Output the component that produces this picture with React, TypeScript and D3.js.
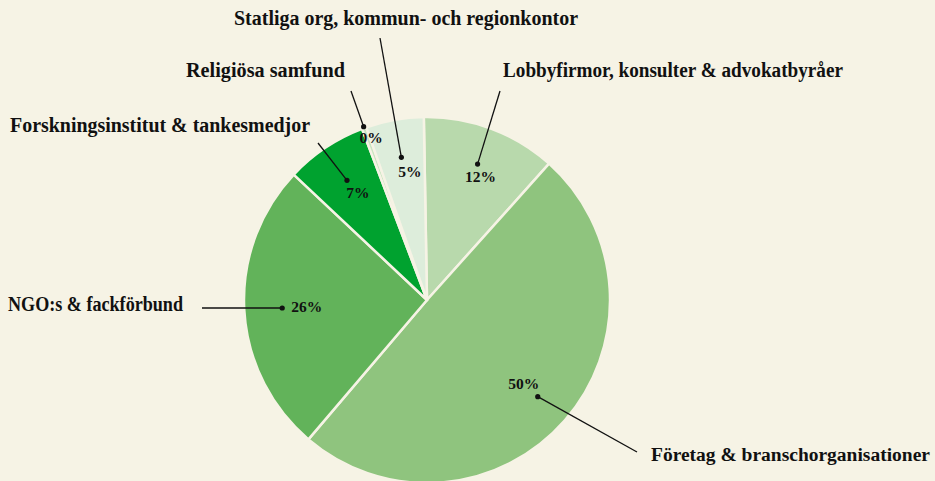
import React from "react";
import * as d3 from "d3";

const categories = [
  "Lobbyfirmor, konsulter & advokatbyråer",
  "Företag & branschorganisationer",
  "NGO:s & fackförbund",
  "Forskningsinstitut & tankesmedjor",
  "Religiösa samfund",
  "Statliga org, kommun- och regionkontor",
];
const shares = [11.9, 49.6, 25.8, 7.2, 0.4, 5.1];
const sliceColors = ["#b8d9ac", "#8fc47e", "#62b35a", "#00a22f", "#c9e5c1", "#ddeddb"];

// label layout (positions only)
const labelLayout = [
  { x: 503, y: 77, fs: 20, w: 340, lx: 500, ly: 91, dotR: 145, px: 3, py: 18, panchor: "middle" },
  { x: 651, y: 461, fs: 18.5, w: 279, lx: 637, ly: 452, dotR: 147, px: -14, py: -8, panchor: "middle" },
  { x: 8, y: 311, fs: 20, w: 175, lx: 202, ly: 308, dotR: 145, px: 9, py: 4.5, panchor: "start" },
  { x: 10, y: 132, fs: 20, w: 300, lx: 318, ly: 143, dotR: 144, px: 11, py: 18, panchor: "middle" },
  { x: 186, y: 77, fs: 20, w: 159, lx: 351, ly: 91, dotR: 184.5, px: 7.5, py: 16, panchor: "middle" },
  { x: 234, y: 25, fs: 20, w: 344, lx: 380, ly: 38, dotR: 145, px: 8.5, py: 20, panchor: "middle" },
];

const W = 935;
const H = 481;
const BG = "#f6f3e5";
const cx = 427;
const cy = 300;
const R = 183;

export default function App() {
  const start = (-1 * Math.PI) / 180;
  const pie = d3
    .pie<number>()
    .sort(null)
    .value((d) => d)
    .startAngle(start)
    .endAngle(start + 2 * Math.PI);
  const arcs = pie(shares);
  const arc = d3.arc<d3.PieArcDatum<number>>().innerRadius(0).outerRadius(R);

  return (
    <div style={{ position: "fixed", left: 0, top: 0, width: W, height: H, background: BG }}>
      <svg width={W} height={H} style={{ display: "block" }}>
        <rect width={W} height={H} fill={BG} />
        <g transform={`translate(${cx},${cy})`}>
          {arcs.map((a, i) => (
            <path key={i} d={arc(a) || ""} fill={sliceColors[i]} stroke={BG} strokeWidth={2.5} strokeLinejoin="round" />
          ))}
        </g>
        {arcs.map((a, i) => {
          const L = labelLayout[i];
          const mid = (a.startAngle + a.endAngle) / 2;
          const dx = cx + L.dotR * Math.sin(mid);
          const dy = cy - L.dotR * Math.cos(mid);
          return (
            <g key={"l" + i}>
              <line x1={L.lx} y1={L.ly} x2={dx} y2={dy} stroke="#111" strokeWidth={1.3} />
              <circle cx={dx} cy={dy} r={2.6} fill="#111" />
              <text
                x={dx + L.px}
                y={dy + L.py}
                textAnchor={L.panchor as any}
                fontFamily="'Liberation Serif', serif"
                fontWeight={700}
                fontSize={15.5}
                fill="#111"
              >
                {Math.round(shares[i])}%
              </text>
              <text
                x={L.x}
                y={L.y}
                textAnchor="start"
                fontFamily="'Liberation Serif', serif"
                fontWeight={700}
                fontSize={L.fs}
                fill="#111"
                textLength={L.w}
                lengthAdjust="spacingAndGlyphs"
              >
                {categories[i]}
              </text>
            </g>
          );
        })}
      </svg>
    </div>
  );
}
